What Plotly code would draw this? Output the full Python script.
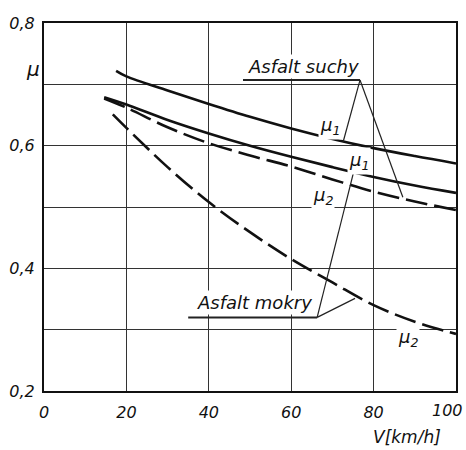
import plotly.graph_objects as go

# ---- data ----
v_dry_mu1 = [17.5, 20, 30, 40, 50, 60, 70, 80, 90, 100]
dry_mu1 = [0.722, 0.713, 0.690, 0.668, 0.647, 0.628, 0.611, 0.596, 0.583, 0.571]

v_wet_mu1 = [14.6, 20, 30, 40, 50, 60, 70, 80, 90, 100]
wet_mu1 = [0.679, 0.667, 0.642, 0.620, 0.600, 0.582, 0.565, 0.549, 0.535, 0.523]

v_dry_mu2 = [14.6, 20, 30, 40, 50, 60, 70, 80, 90, 100]
dry_mu2 = [0.677, 0.662, 0.630, 0.604, 0.584, 0.566, 0.545, 0.525, 0.509, 0.495]

v_wet_mu2 = [16.7, 20, 30, 40, 50, 60, 70, 80, 90, 100]
wet_mu2 = [0.651, 0.629, 0.565, 0.508, 0.459, 0.415, 0.377, 0.340, 0.313, 0.293]

x_ticks = [0, 20, 40, 60, 80, 100]
x_ticktext = ["0", "20", "40", "60", "80", "100"]
y_ticks = [0.2, 0.3, 0.4, 0.5, 0.6, 0.7, 0.8]
y_ticktext = ["0,2", "", "0,4", "", "0,6", "", "0,8"]

# labels: (text, x, y)
curve_labels = [
    ("μ<sub>1</sub>", 69.4, 0.632),
    ("μ<sub>1</sub>", 76.5, 0.575),
    ("μ<sub>2</sub>", 67.7, 0.518),
    ("μ<sub>2</sub>", 88.3, 0.286),
]
group_labels = [
    ("Asfalt suchy", 63.0, 0.729),
    ("Asfalt mokry", 51.0, 0.345),
]
# leader lines: (x0, y0, x1, y1, width)
leaders = [
    (48.3, 0.707, 76.7, 0.707, 2),
    (76.7, 0.707, 72.6, 0.606, 1.2),
    (76.7, 0.707, 87.1, 0.516, 1.2),
    (35.0, 0.320, 66.3, 0.320, 2),
    (66.3, 0.320, 76.2, 0.585, 1.2),
    (66.3, 0.320, 75.5, 0.351, 1.2),
]

FONT = "DejaVu Sans"
dash = "22px,7px"
tick_font = dict(family=FONT, size=16, color="#111", style="italic")

fig = go.Figure()
for xs, ys, d in [
    (v_dry_mu1, dry_mu1, "solid"),
    (v_wet_mu1, wet_mu1, "solid"),
    (v_dry_mu2, dry_mu2, dash),
    (v_wet_mu2, wet_mu2, dash),
]:
    fig.add_trace(go.Scatter(x=xs, y=ys, mode="lines",
                             line=dict(color="#111", width=2.6, dash=d, shape="spline", smoothing=1.0),
                             showlegend=False, hoverinfo="skip"))

for x0, y0, x1, y1, w in leaders:
    fig.add_shape(type="line", x0=x0, y0=y0, x1=x1, y1=y1, xref="x", yref="y",
                  line=dict(color="#222", width=w), layer="above")

for t, x, y in curve_labels:
    fig.add_annotation(x=x, y=y, text=t, showarrow=False, bgcolor="white",
                       font=dict(family=FONT, size=18, color="#111", style="italic"))
for t, x, y in group_labels:
    fig.add_annotation(x=x, y=y, text=t, showarrow=False, bgcolor="white",
                       font=dict(family=FONT, size=18, color="#111", style="italic"))

# last x tick label, right-aligned to stay inside the page (as in the reference)
fig.add_annotation(x=x_ticks[-1], y=0, xref="x", yref="paper", text=x_ticktext[-1],
                   xanchor="right", yanchor="top", xshift=9, yshift=-8,
                   showarrow=False, font=tick_font)

fig.add_annotation(x=-0.048, y=0.913, xref="paper", yref="paper", text="μ",
                   showarrow=False, font=dict(family=FONT, size=20, color="#111", style="italic"))
fig.add_annotation(x=0.968, y=-0.125, xref="paper", yref="paper", text="V[km/h]",
                   xanchor="right", yanchor="middle", showarrow=False,
                   font=dict(family=FONT, size=17, color="#111", style="italic"))

fig.update_xaxes(range=[0, 100], tickvals=x_ticks[:-1], ticktext=x_ticktext[:-1],
                 showgrid=True, gridcolor="#333", gridwidth=1.4,
                 showline=True, linecolor="#111", linewidth=2.2, mirror=True,
                 zeroline=False, ticks="", ticklabelstandoff=6, automargin=False,
                 tickfont=tick_font)
fig.update_yaxes(range=[0.2, 0.8], tickvals=y_ticks, ticktext=y_ticktext,
                 showgrid=True, gridcolor="#333", gridwidth=1.4,
                 showline=True, linecolor="#111", linewidth=2.2, mirror=True,
                 zeroline=False, ticks="", ticklabelstandoff=4, automargin=False,
                 tickfont=tick_font)

fig.update_layout(width=466, height=450, margin=dict(l=44, r=10, t=23, b=59),
                  plot_bgcolor="white", paper_bgcolor="white")

fig.write_html("out.html", config={"displayModeBar": False},
               post_script="document.body.style.margin='0';document.body.style.overflow='hidden';")
